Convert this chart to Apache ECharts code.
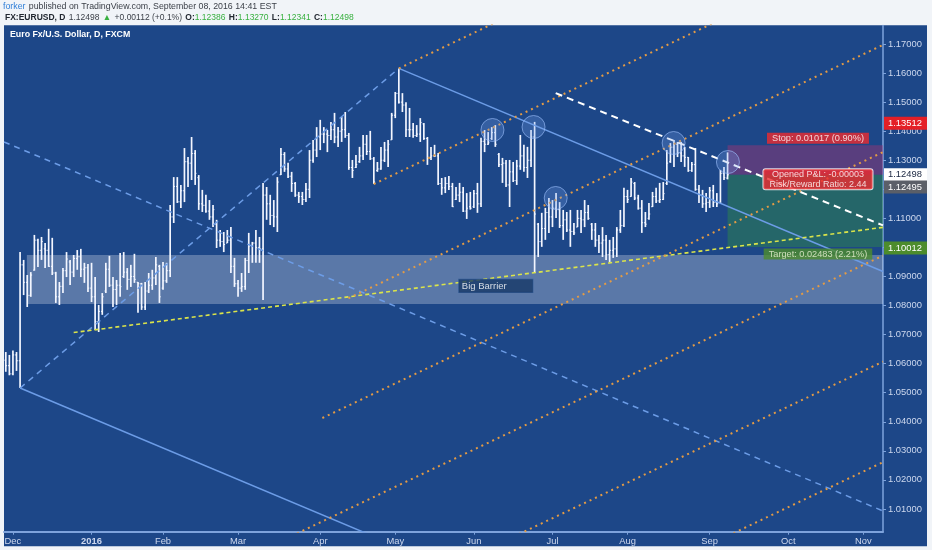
<!DOCTYPE html>
<html><head><meta charset="utf-8">
<script src="https://cdn.jsdelivr.net/npm/echarts/dist/echarts.min.js"></script>
<style>html,body{margin:0;padding:0;background:#f1f4f8}#c{width:932px;height:550px}</style>
</head><body><div id="c"></div>
<script>
// ---------- DATA ----------
const firstDay = '2015-11-27', lastDay = '2016-11-08';
const holidays = ['2015-12-25', '2016-01-01'];
const monthNames = ['Jan','Feb','Mar','Apr','May','Jun','Jul','Aug','Sep','Oct','Nov','Dec'];
const yTickMin = 1.00217, yTickMax = 1.17637;

// daily bars [open, high, low, close], 2015-11-27 .. 2016-09-08
const bars = [
[1.0612,1.0640,1.0572,1.0593],[1.0593,1.0630,1.0560,1.0565],[1.0565,1.0645,1.0560,1.0630],[1.0630,1.0640,1.0575,1.0610],
[1.0610,1.0984,1.0516,1.0940],[1.0940,1.0957,1.0836,1.0880],[1.0880,1.0905,1.0795,1.0835],[1.0835,1.0915,1.0830,1.0905],
[1.0922,1.1043,1.0920,1.1025],[1.1025,1.1030,1.0933,1.0990],[1.0990,1.1036,1.0957,1.1020],[1.0995,1.1015,1.0929,1.0990],
[1.0990,1.1064,1.0933,1.0935],[1.0935,1.1033,1.0905,1.0912],[1.0912,1.0916,1.0809,1.0830],[1.0830,1.0881,1.0802,1.0866],
[1.0866,1.0929,1.0843,1.0920],[1.0920,1.0984,1.0898,1.0960],[1.0950,1.0957,1.0871,1.0915],[1.0915,1.0974,1.0898,1.0962],
[1.0962,1.0991,1.0923,1.0968],[1.0968,1.0995,1.0898,1.0925],[1.0925,1.0947,1.0878,1.0930],[1.0930,1.0943,1.0847,1.0860],
[1.0860,1.0947,1.0812,1.0830],[1.0830,1.0898,1.0716,1.0745],[1.0745,1.0802,1.0709,1.0780],[1.0780,1.0843,1.0768,1.0830],
[1.0850,1.0947,1.0843,1.0925],[1.0925,1.0971,1.0864,1.0870],[1.0870,1.0898,1.0795,1.0855],[1.0855,1.0888,1.0802,1.0870],
[1.0870,1.0981,1.0830,1.0865],[1.0900,1.0984,1.0895,1.0915],[1.0915,1.0929,1.0854,1.0890],[1.0890,1.0940,1.0864,1.0900],
[1.0900,1.0978,1.0878,1.0890],[1.0880,1.0881,1.0775,1.0875],[1.0875,1.0878,1.0785,1.0795],[1.0795,1.0881,1.0785,1.0850],
[1.0850,1.0912,1.0843,1.0870],[1.0870,1.0923,1.0854,1.0895],[1.0895,1.0967,1.0871,1.0940],[1.0935,1.0940,1.0809,1.0830],
[1.0860,1.0950,1.0854,1.0885],[1.0885,1.0947,1.0878,1.0920],[1.0920,1.1146,1.0898,1.1105],[1.1105,1.1242,1.1084,1.1210],
[1.1210,1.1242,1.1153,1.1157],[1.1157,1.1215,1.1136,1.1195],[1.1195,1.1342,1.1156,1.1295],[1.1295,1.1311,1.1208,1.1290],
[1.1290,1.1380,1.1232,1.1323],[1.1323,1.1335,1.1215,1.1255],[1.1240,1.1249,1.1129,1.1150],[1.1150,1.1198,1.1122,1.1145],
[1.1145,1.1181,1.1119,1.1125],[1.1125,1.1163,1.1095,1.1105],[1.1105,1.1146,1.1070,1.1130],[1.1080,1.1095,1.0998,1.1025],
[1.1025,1.1060,1.1002,1.1020],[1.1020,1.1053,1.0984,1.1010],[1.1015,1.1060,1.1015,1.1025],[1.1025,1.1070,1.0912,1.0935],
[1.0935,1.0964,1.0864,1.0875],[1.0875,1.0888,1.0830,1.0860],[1.0860,1.0912,1.0847,1.0865],[1.0865,1.0964,1.0854,1.0955],
[1.0955,1.1050,1.0912,1.1005],[1.1005,1.1019,1.0947,1.1015],[1.1015,1.1060,1.0947,1.1000],[1.1000,1.1036,1.0947,1.0995],
[1.0995,1.1222,1.0819,1.1180],[1.1180,1.1208,1.1095,1.1150],[1.1150,1.1181,1.1077,1.1110],[1.1110,1.1163,1.1070,1.1105],
[1.1105,1.1242,1.1053,1.1225],[1.1250,1.1342,1.1249,1.1320],[1.1320,1.1328,1.1260,1.1270],[1.1270,1.1291,1.1239,1.1245],
[1.1245,1.1260,1.1191,1.1220],[1.1220,1.1225,1.1174,1.1180],[1.1180,1.1191,1.1153,1.1175],[1.1175,1.1191,1.1146,1.1165],
[1.1165,1.1222,1.1156,1.1200],[1.1200,1.1335,1.1170,1.1300],[1.1300,1.1370,1.1291,1.1335],[1.1335,1.1414,1.1311,1.1380],
[1.1380,1.1439,1.1335,1.1390],[1.1390,1.1414,1.1359,1.1390],[1.1390,1.1404,1.1328,1.1385],[1.1385,1.1432,1.1370,1.1405],
[1.1405,1.1463,1.1359,1.1380],[1.1380,1.1414,1.1346,1.1400],[1.1400,1.1449,1.1363,1.1405],[1.1405,1.1466,1.1377,1.1385],
[1.1385,1.1394,1.1267,1.1275],[1.1275,1.1301,1.1239,1.1265],[1.1275,1.1318,1.1273,1.1285],[1.1295,1.1346,1.1291,1.1315],
[1.1315,1.1387,1.1301,1.1355],[1.1355,1.1387,1.1318,1.1330],[1.1330,1.1401,1.1301,1.1305],[1.1305,1.1311,1.1218,1.1225],
[1.1265,1.1294,1.1260,1.1270],[1.1270,1.1346,1.1267,1.1300],[1.1300,1.1363,1.1294,1.1335],[1.1335,1.1370,1.1277,1.1355],
[1.1370,1.1463,1.1370,1.1455],[1.1455,1.1535,1.1445,1.1530],[1.1530,1.1616,1.1495,1.1500],[1.1500,1.1531,1.1466,1.1490],
[1.1490,1.1500,1.1380,1.1405],[1.1405,1.1480,1.1380,1.1405],[1.1405,1.1428,1.1377,1.1385],[1.1385,1.1421,1.1380,1.1390],
[1.1390,1.1445,1.1363,1.1430],[1.1425,1.1428,1.1370,1.1375],[1.1375,1.1380,1.1284,1.1310],[1.1310,1.1346,1.1301,1.1315],
[1.1315,1.1353,1.1311,1.1315],[1.1315,1.1325,1.1215,1.1220],[1.1220,1.1239,1.1181,1.1205],[1.1205,1.1242,1.1187,1.1220],
[1.1220,1.1246,1.1198,1.1210],[1.1210,1.1222,1.1139,1.1140],[1.1165,1.1208,1.1163,1.1180],[1.1180,1.1222,1.1156,1.1190],
[1.1190,1.1208,1.1122,1.1125],[1.1125,1.1187,1.1098,1.1135],[1.1140,1.1191,1.1130,1.1135],[1.1140,1.1198,1.1136,1.1185],
[1.1185,1.1222,1.1119,1.1150],[1.1150,1.1377,1.1139,1.1365],[1.1365,1.1404,1.1328,1.1355],[1.1355,1.1397,1.1353,1.1360],
[1.1375,1.1414,1.1370,1.1395],[1.1395,1.1421,1.1346,1.1355],[1.1320,1.1325,1.1277,1.1285],[1.1285,1.1308,1.1222,1.1290],
[1.1290,1.1301,1.1208,1.1215],[1.1215,1.1301,1.1139,1.1260],[1.1260,1.1294,1.1225,1.1230],[1.1230,1.1301,1.1215,1.1280],
[1.1280,1.1387,1.1267,1.1315],[1.1315,1.1353,1.1260,1.1275],[1.1275,1.1346,1.1239,1.1300],[1.1300,1.1404,1.1277,1.1380],
[1.1380,1.1432,1.0912,1.1115],[1.1080,1.1084,1.0967,1.1020],[1.1020,1.1119,1.1002,1.1065],[1.1065,1.1136,1.1026,1.1120],
[1.1120,1.1170,1.1050,1.1105],[1.1105,1.1163,1.1070,1.1135],[1.1135,1.1187,1.1101,1.1130],[1.1130,1.1156,1.1067,1.1075],
[1.1075,1.1129,1.1026,1.1095],[1.1095,1.1122,1.1053,1.1060],[1.1060,1.1129,1.1002,1.1055],[1.1055,1.1084,1.1043,1.1050],
[1.1070,1.1129,1.1070,1.1100],[1.1100,1.1129,1.1050,1.1095],[1.1095,1.1163,1.1070,1.1120],[1.1120,1.1146,1.1095,1.1100],
[1.1080,1.1084,1.1026,1.1060],[1.1060,1.1084,1.1002,1.1025],[1.1025,1.1043,1.0981,1.1015],[1.1015,1.1070,1.0967,1.1025],
[1.1025,1.1043,1.0957,1.0975],[1.0975,1.1026,1.0950,1.0990],[1.0990,1.1036,1.0964,1.0995],[1.0995,1.1070,1.0967,1.1060],
[1.1060,1.1129,1.1050,1.1075],[1.1075,1.1205,1.1070,1.1175],[1.1175,1.1198,1.1153,1.1165],[1.1175,1.1239,1.1174,1.1225],
[1.1220,1.1225,1.1163,1.1170],[1.1170,1.1181,1.1130,1.1135],[1.1135,1.1163,1.1050,1.1085],[1.1085,1.1122,1.1070,1.1080],
[1.1100,1.1153,1.1095,1.1115],[1.1140,1.1191,1.1139,1.1175],[1.1175,1.1205,1.1153,1.1160],[1.1160,1.1222,1.1153,1.1165],
[1.1165,1.1225,1.1163,1.1185],[1.1220,1.1335,1.1215,1.1290],[1.1295,1.1359,1.1291,1.1345],[1.1345,1.1370,1.1277,1.1355],
[1.1355,1.1363,1.1311,1.1325],[1.1325,1.1363,1.1294,1.1315],[1.1315,1.1346,1.1277,1.1310],[1.1310,1.1311,1.1260,1.1265],
[1.1265,1.1294,1.1260,1.1285],[1.1285,1.1342,1.1195,1.1200],[1.1200,1.1215,1.1153,1.1180],[1.1180,1.1198,1.1136,1.1150],
[1.1150,1.1187,1.1122,1.1155],[1.1155,1.1208,1.1136,1.1195],[1.1195,1.1215,1.1139,1.1155],[1.1155,1.1187,1.1139,1.1150],
[1.1155,1.1267,1.1153,1.1255],[1.1255,1.1277,1.1232,1.1240],[1.12386,1.13270,1.12341,1.12498]
];

// drawings: points are [bar index, price]
const channelLower = [[4, 1.0516], [245.5, 0.9270]];
const channelUpper = [[110, 1.1616], [245.5, 1.0917]];
const channelMid   = [[-0.5, 1.1363], [245.5, 1.0093]];
const channelSide  = [[4, 1.0516], [110, 1.1616]];
const whiteTrend   = [[153.9, 1.1531], [245.5, 1.1076]];
const yellowTrend  = [[19, 1.0707], [245.5, 1.1069]];
const orangeLines = [
  [[110, 1.1616], [200, 1.2141]],
  [[103, 1.1218], [245.5, 1.2049]],
  [[95.9, 1.0825], [245.5, 1.1697]],
  [[88.6, 1.0413], [245.5, 1.1328]],
  [[80, 1.0007], [245.5, 1.0972]],
  [[130, 0.9934], [245.5, 1.0607]],
  [[190, 0.9937], [245.5, 1.0261]]
];
const barrierZone = [5.9, 1.09739, 245.5, 1.08053];
const circles = [[136.2, 1.14041], [147.7, 1.14144], [153.9, 1.11701], [186.9, 1.13593], [202.1, 1.12939]];
const entryIndex = 202, entryPrice = 1.12498, stopPrice = 1.13512, targetPrice = 1.10012, lastPrice = 1.12495;
const stopText = 'Stop: 0.01017 (0.90%)';
const pnlText = 'Opened P&L: -0.00003\nRisk/Reward Ratio: 2.44';
const targetText = 'Target: 0.02483 (2.21%)';
const barrierLabel = [126.8, 1.08675, 'Big Barrier'];

// ---------- BUILD ----------
function buildDays() {
  const out = [];
  let t = Date.parse(firstDay + 'T00:00:00Z');
  const end = Date.parse(lastDay + 'T00:00:00Z');
  while (t <= end) {
    const d = new Date(t), wd = d.getUTCDay(), s = d.toISOString().slice(0, 10);
    if (wd !== 0 && wd !== 6 && holidays.indexOf(s) < 0) out.push(s);
    t += 86400000;
  }
  return out;
}
const days = buildDays();
const N = days.length;
const monthStart = days.map((d, i) => i > 0 && d.slice(5, 7) !== days[i - 1].slice(5, 7));

const barData = bars.map((b, i) => [i, b[0], b[1], b[2], b[3]]);
const zoneData = [
  barrierZone.concat([0]),
  [entryIndex, stopPrice, N - 0.5, entryPrice, 1],
  [entryIndex, entryPrice, N - 0.5, targetPrice, 2]
];
const zoneFills = ['rgba(255,255,255,0.27)', 'rgba(165,50,115,0.45)', 'rgba(50,150,60,0.40)'];

const chart = echarts.init(document.getElementById('c'));
const lineSeries = (data, color, width, type, z) => ({
  type: 'line', xAxisIndex: 1, yAxisIndex: 0, data: data, symbol: 'none', silent: true,
  lineStyle: { color: color, width: width, type: type }, z: z || 4, animation: false
});
const axisColor = '#7ea3dc', labelColor = '#cdd8ee';
const midLabelX = 227.3;

const series = [
  {
    type: 'custom', xAxisIndex: 1, yAxisIndex: 0, data: zoneData, z: 1, silent: true,
    renderItem: function (params, api) {
      const p1 = api.coord([api.value(0), api.value(1)]);
      const p2 = api.coord([api.value(2), api.value(3)]);
      const shape = echarts.graphic.clipRectByRect({
        x: Math.min(p1[0], p2[0]), y: Math.min(p1[1], p2[1]),
        width: Math.abs(p2[0] - p1[0]), height: Math.abs(p2[1] - p1[1])
      }, { x: params.coordSys.x, y: params.coordSys.y, width: params.coordSys.width, height: params.coordSys.height });
      return shape && { type: 'rect', shape: shape, style: { fill: zoneFills[api.value(4)] } };
    }
  },
  {
    type: 'custom', xAxisIndex: 0, yAxisIndex: 0, data: barData, z: 3, silent: true,
    encode: { x: 0, y: [1, 2, 3, 4] },
    renderItem: function (params, api) {
      const i = api.value(0);
      const o = api.coord([i, api.value(1)]), h = api.coord([i, api.value(2)]);
      const l = api.coord([i, api.value(3)]), c = api.coord([i, api.value(4)]);
      const x = h[0], t = 1.3, col = '#f3f6ff';
      return { type: 'group', children: [
        { type: 'line', shape: { x1: x, y1: h[1], x2: x, y2: l[1] }, style: { stroke: col, lineWidth: 1.7 } },
        { type: 'line', shape: { x1: x - t, y1: o[1], x2: x, y2: o[1] }, style: { stroke: col, lineWidth: 1 } },
        { type: 'line', shape: { x1: x, y1: c[1], x2: x + t, y2: c[1] }, style: { stroke: col, lineWidth: 1 } }
      ] };
    }
  },
  lineSeries(channelLower, '#6c9ce6', 1.5, 'solid'),
  lineSeries(channelUpper, '#6c9ce6', 1.5, 'solid'),
  lineSeries(channelMid, '#6c9ce6', 1.5, [6, 5]),
  lineSeries(channelSide, '#6c9ce6', 1.5, [6, 5]),
  lineSeries(yellowTrend, '#dbe44a', 1.6, [4, 3]),
  lineSeries(whiteTrend, '#ffffff', 2, [7, 5], 5)
].concat(orangeLines.map(d => lineSeries(d, '#e39b45', 2, [2, 4])));

series.push({
  type: 'scatter', xAxisIndex: 1, yAxisIndex: 0, data: circles, symbol: 'circle', symbolSize: 23, z: 6, silent: true,
  itemStyle: { color: 'rgba(120,165,235,0.33)', borderColor: 'rgba(160,195,255,0.75)', borderWidth: 1 }
});
const labelFont = { fontFamily: 'Liberation Sans, Arial, sans-serif', fontSize: 9 };
series.push({
  type: 'scatter', xAxisIndex: 1, yAxisIndex: 0, symbolSize: 0, z: 7, silent: true,
  data: [
    { value: [barrierLabel[0], barrierLabel[1]], label: { show: true, position: 'right', distance: 0, formatter: barrierLabel[2],
      color: '#ffffff', backgroundColor: '#173867', borderColor: '#2a5592', borderWidth: 0.6, padding: [2, 26, 1, 3], ...labelFont, fontSize: 9.5 } },
    { value: [midLabelX, stopPrice], label: { show: true, position: 'inside', offset: [0, -7], formatter: stopText,
      color: '#ffffff', backgroundColor: '#ef2a2e', padding: [1, 5, 1, 5], ...labelFont, fontSize: 9.2 } },
    { value: [midLabelX, entryPrice], label: { show: true, position: 'inside', offset: [0, 4.5], formatter: pnlText,
      color: '#ffffff', backgroundColor: '#ef2a2e', borderColor: '#ffffff', borderWidth: 1, borderRadius: 2,
      padding: [1, 6, 0, 6], lineHeight: 9.5, align: 'center', ...labelFont, fontSize: 9 } },
    { value: [midLabelX, targetPrice], label: { show: true, position: 'inside', offset: [0, 7], formatter: targetText,
      color: '#eef4d8', backgroundColor: '#4d8c2c', padding: [1, 5, 1, 5], ...labelFont, fontSize: 9.2 } }
  ]
});

const option = {
  animation: false,
  backgroundColor: '#f1f4f8',
  textStyle: { fontFamily: 'Liberation Sans, Arial, sans-serif' },
  grid: { left: 4, right: 49, top: 25.5, bottom: 18.3, containLabel: false },
  xAxis: [
    {
      type: 'category', data: days, boundaryGap: true,
      axisLine: { show: true, onZero: false, lineStyle: { color: axisColor, width: 2 } },
      axisTick: { show: true, interval: i => monthStart[i], alignWithLabel: true, length: 3, lineStyle: { color: axisColor } },
      axisLabel: {
        interval: i => monthStart[i], color: labelColor, fontSize: 9.4, margin: 5,
        formatter: v => { const m = +v.slice(5, 7); return m === 1 ? '{y|' + v.slice(0, 4) + '}' : monthNames[m - 1]; },
        rich: { y: { fontWeight: 'bold', color: labelColor, fontSize: 9.4 } }
      },
      splitLine: { show: false }
    },
    { type: 'value', min: -0.5, max: N - 0.5, show: false, gridIndex: 0, axisLine: { onZero: false } }
  ],
  yAxis: [{
    type: 'value', position: 'right', min: yTickMin, max: yTickMax, splitNumber: 17,
    axisLine: { show: true, onZero: false, lineStyle: { color: axisColor, width: 1.5 } },
    axisTick: { show: true, length: 3, lineStyle: { color: axisColor } },
    axisLabel: { color: labelColor, fontSize: 9.4, margin: 5, showMinLabel: false, showMaxLabel: false, formatter: v => v.toFixed(5) },
    splitLine: { show: false }
  }],
  series: series
};
chart.setOption(option);

// ---------- overlay texts and price tags ----------
const yp = v => chart.convertToPixel({ yAxisIndex: 0 }, v);
const tag = (id, price, dy, bg, fg) => {
  const y = yp(price) + dy;
  return [
    { type: 'rect', id: id + 'r', shape: { x: 884, y: y - 6.5, width: 43, height: 13 }, style: { fill: bg }, z: 50 },
    { type: 'text', id: id + 't', x: 888, y: y, style: { text: price.toFixed(5), fill: fg, font: '9.4px "Liberation Sans", Arial, sans-serif', verticalAlign: 'middle' }, z: 51 }
  ];
};
const hdrFont = '"Liberation Sans", Arial, sans-serif';
chart.setOption({
  graphic: { elements: [
    { type: 'rect', id: 'bg', shape: { x: 4, y: 25.3, width: 923, height: 521 }, style: { fill: '#1d4788' }, z: -100, silent: true },
    { type: 'text', id: 'h1', x: 3, y: 7, z: 60, style: {
      text: '{a|forker} {b|published on TradingView.com, September 08, 2016 14:41 EST}', verticalAlign: 'middle',
      rich: { a: { fill: '#2f7fd8', fontSize: 8.8, fontFamily: hdrFont }, b: { fill: '#3a3f47', fontSize: 8.8, fontFamily: hdrFont } } } },
    { type: 'text', id: 'h2', x: 5, y: 17.5, z: 60, style: {
      text: '{k|FX:EURUSD, D} {n|1.12498} {g|▲} {n|+0.00112 (+0.1%)} {k|O:}{g|1.12386} {k|H:}{g|1.13270} {k|L:}{g|1.12341} {k|C:}{g|1.12498}',
      verticalAlign: 'middle',
      rich: {
        k: { fill: '#222831', fontSize: 8.5, fontWeight: 'bold', fontFamily: hdrFont },
        n: { fill: '#3a3f47', fontSize: 8.5, fontFamily: hdrFont },
        g: { fill: '#38b03f', fontSize: 8.5, fontFamily: hdrFont }
      } } },
    { type: 'text', id: 'sym', x: 10, y: 35, z: 60, style: { text: 'Euro Fx/U.S. Dollar, D, FXCM', fill: '#ffffff', font: 'bold 8.8px ' + hdrFont, verticalAlign: 'middle' } }
  ].concat(
    tag('stop', stopPrice, -22, '#e41f26', '#ffffff'),
    tag('entry', entryPrice, 0, '#ffffff', '#1a2640'),
    tag('last', lastPrice, 12, '#5b5f68', '#ffffff'),
    tag('tgt', targetPrice, 1, '#4d8c2c', '#ffffff')
  ) }
});
</script></body></html>
